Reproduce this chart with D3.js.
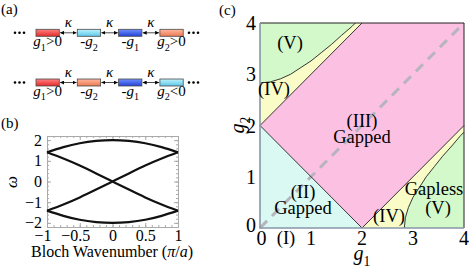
<!DOCTYPE html>
<html>
<head>
<meta charset="utf-8">
<script src="https://cdn.jsdelivr.net/npm/d3@7"></script>
<style>
body { margin: 0; background: #fff; }
svg { display: block; }
</style>
</head>
<body>
<svg id="fig" width="469" height="275"></svg>
<script>
// ---- data ----
// (a) chain of resonators
var chainTopColors = ["red", "cyan", "blue", "salmon"];
var chainTopLabels = ["g1>0", "-g2", "-g1", "g2>0"];
var chainBotColors = ["red", "salmon", "blue", "cyan"];
var chainBotLabels = ["g1>0", "-g2", "-g1", "g2<0"];

// (b) bands
var bandK = [-1, -0.75, -0.5, -0.25, 0, 0.25, 0.5, 0.75, 1];
var band1 = [1.41, 1.66, 1.85, 1.96, 2.0, 1.96, 1.85, 1.66, 1.41];
var band2 = [1.41, 1.11, 0.77, 0.39, 0, -0.39, -0.77, -1.11, -1.41];
var band3 = [-1.41, -1.11, -0.77, -0.39, 0, 0.39, 0.77, 1.11, 1.41];
var band4 = [-1.41, -1.66, -1.85, -1.96, -2.0, -1.96, -1.85, -1.66, -1.41];
var bTicksX = [-1, -0.5, 0, 0.5, 1];
var bTicksY = [-2, -1, 0, 1, 2];

// (c) phase diagram, boundaries in (g1, g2)
var cTicks = [0, 1, 2, 3, 4];
var upperCurve = [[0, 2.83], [0.2, 2.85], [0.4, 2.91], [0.6, 3.0], [0.8, 3.13], [1.0, 3.26],
                  [1.2, 3.42], [1.4, 3.58], [1.6, 3.76], [1.8, 3.93], [1.87, 4]];
var lowerCurve = [[2.83, 0], [2.85, 0.2], [2.91, 0.4], [3.0, 0.6], [3.13, 0.8], [3.26, 1.0],
                  [3.42, 1.2], [3.58, 1.4], [3.76, 1.6], [3.93, 1.8], [4, 1.87]];
var cyanRegion = [[0, 0], [0, 2], [2, 0]];
var pinkRegion = [[0, 2], [2, 4], [4, 4], [4, 2], [2, 0]];
var plotCorners = [[0, 0], [4, 0], [4, 4], [0, 4]];

// pick a Times-like font if there is one, else a sans and shrink a bit
var ctx = document.createElement("canvas").getContext("2d");
function hasFont(name) {
    ctx.font = "40px monospace";
    var w0 = ctx.measureText("Gapped WWmmil 0123").width;
    ctx.font = "40px '" + name + "', monospace";
    return ctx.measureText("Gapped WWmmil 0123").width != w0;
}
var fontChoices = [["Liberation Serif", 1], ["Tinos", 1], ["Times New Roman", 1], ["DejaVu Serif", 0.88],
                   ["Noto Serif", 0.9], ["Liberation Sans", 0.9], ["Arimo", 0.9], ["DejaVu Sans", 0.82]];
var FONT = "serif", SC = 1;
for (var i = 0; i < fontChoices.length; i++) {
    if (hasFont(fontChoices[i][0])) { FONT = "'" + fontChoices[i][0] + "'"; SC = fontChoices[i][1]; break; }
}
function fs(n) { return n * SC; }

var svg = d3.select("#fig").attr("font-family", FONT);
var defs = svg.append("defs");

// gradients for the boxes
var boxFill = {
    red: ["#ff8282", "#e52a2a"],
    cyan: ["#bff2fd", "#5cc8ea"],
    blue: ["#7090ff", "#2342d6"],
    salmon: ["#ffbaa0", "#ec7852"]
};
Object.keys(boxFill).forEach(function (k) {
    var g = defs.append("linearGradient").attr("id", "grad-" + k)
        .attr("x1", 0).attr("y1", 0).attr("x2", 0).attr("y2", 1);
    g.append("stop").attr("offset", "0%").attr("stop-color", boxFill[k][0]);
    g.append("stop").attr("offset", "100%").attr("stop-color", boxFill[k][1]);
});

defs.append("marker").attr("id", "arr")
    .attr("viewBox", "0 0 6 6").attr("refX", 6).attr("refY", 3)
    .attr("markerWidth", 4).attr("markerHeight", 4)
    .attr("markerUnits", "userSpaceOnUse")
    .attr("orient", "auto-start-reverse")
    .append("path").attr("d", "M0,0 L6,3 L0,6 z").attr("fill", "#000");

// text with g_n subscripts
function rich(t, str, size) {
    var shift = size * 0.28, pend = 0;
    str.match(/g\d|[^g]+/g).forEach(function (p) {
        if (p.length == 2 && p[0] == "g") {
            t.append("tspan").attr("font-style", "italic").attr("dy", pend).text("g");
            t.append("tspan").attr("font-size", size * 0.68).attr("dy", shift).text(p[1]);
            pend = -shift;
        } else {
            t.append("tspan").attr("dy", pend).text(p);
            pend = 0;
        }
    });
}

// panel letters
svg.append("text").attr("x", 1).attr("y", 14).attr("font-size", fs(15)).text("(a)");
svg.append("text").attr("x", 1).attr("y", 128).attr("font-size", fs(15)).text("(b)");
svg.append("text").attr("x", 219).attr("y", 15).attr("font-size", fs(15)).text("(c)");

// ---- (a) ----
var boxX0 = 36, boxStep = 41.3, boxW = 23.3, boxH = 7;
function drawChain(colors, labels, y) {
    var g = svg.append("g");
    [15, 19.5, 24].forEach(function (x) {
        g.append("circle").attr("cx", x).attr("cy", y + boxH / 2).attr("r", 1.3);
    });
    [189, 193.5, 198].forEach(function (x) {
        g.append("circle").attr("cx", x).attr("cy", y + boxH / 2).attr("r", 1.3);
    });
    colors.forEach(function (c, i) {
        var x = boxX0 + i * boxStep;
        g.append("rect").attr("x", x).attr("y", y).attr("width", boxW).attr("height", boxH)
            .attr("fill", "url(#grad-" + c + ")").attr("stroke", "#4a4a4a").attr("stroke-width", 0.8);
        var t = g.append("text").attr("x", x + boxW / 2).attr("y", y + 17)
            .attr("text-anchor", "middle").attr("font-size", fs(15));
        rich(t, labels[i], fs(15));
        if (i < colors.length - 1) {
            g.append("line").attr("x1", x + boxW + 0.8).attr("x2", x + boxStep - 0.8)
                .attr("y1", y + boxH / 2).attr("y2", y + boxH / 2)
                .attr("stroke", "#000").attr("stroke-width", 0.7)
                .attr("marker-start", "url(#arr)").attr("marker-end", "url(#arr)");
            g.append("text").attr("x", x + boxW + (boxStep - boxW) / 2).attr("y", y - 2)
                .attr("text-anchor", "middle").attr("font-size", fs(15)).attr("font-style", "italic").text("κ");
        }
    });
}
drawChain(chainTopColors, chainTopLabels, 29.3);
drawChain(chainBotColors, chainBotLabels, 79);

// ---- (b) ----
var xb = d3.scaleLinear().domain([-1, 1]).range([47, 178]);
var yb = d3.scaleLinear().domain([-2.2, 2.2]).range([227, 136]);
var gb = svg.append("g");
var frameCol = "#aaa";

function styleAxis(sel) {
    sel.attr("font-family", FONT).attr("font-size", fs(16));
    sel.select(".domain").attr("stroke", frameCol);
    sel.selectAll(".tick line").attr("stroke", frameCol);
    sel.selectAll("text").attr("fill", "#000");
}
var minorX = d3.range(-1, 1.001, 0.1), minorY = d3.range(-2.2, 2.201, 0.2);
gb.append("g").attr("transform", "translate(0," + yb(-2.2) + ")")
    .call(d3.axisBottom(xb).tickValues(minorX).tickSizeInner(-2).tickSizeOuter(0).tickFormat("")).call(styleAxis);
gb.append("g").attr("transform", "translate(0," + yb(2.2) + ")")
    .call(d3.axisTop(xb).tickValues(minorX).tickSizeInner(-2).tickSizeOuter(0).tickFormat("")).call(styleAxis);
gb.append("g").attr("transform", "translate(" + xb(-1) + ",0)")
    .call(d3.axisLeft(yb).tickValues(minorY).tickSizeInner(-2).tickSizeOuter(0).tickFormat("")).call(styleAxis);
gb.append("g").attr("transform", "translate(" + xb(1) + ",0)")
    .call(d3.axisRight(yb).tickValues(minorY).tickSizeInner(-2).tickSizeOuter(0).tickFormat("")).call(styleAxis);

var xAxisB = gb.append("g").attr("transform", "translate(0," + yb(-2.2) + ")")
    .call(d3.axisBottom(xb).tickValues(bTicksX).tickSizeInner(-4).tickSizeOuter(0).tickPadding(3)
        .tickFormat(d3.format("")))
    .call(styleAxis);
xAxisB.selectAll("text").attr("dx", function (d) { return d < 0 ? "-0.28em" : 0; });
gb.append("g").attr("transform", "translate(" + xb(-1) + ",0)")
    .call(d3.axisLeft(yb).tickValues(bTicksY).tickSizeInner(-4).tickSizeOuter(0).tickPadding(5)
        .tickFormat(d3.format("")))
    .call(styleAxis);
gb.append("g").attr("transform", "translate(0," + yb(2.2) + ")")
    .call(d3.axisTop(xb).tickValues(bTicksX).tickSizeInner(-4).tickSizeOuter(0).tickFormat("")).call(styleAxis);
gb.append("g").attr("transform", "translate(" + xb(1) + ",0)")
    .call(d3.axisRight(yb).tickValues(bTicksY).tickSizeInner(-4).tickSizeOuter(0).tickFormat("")).call(styleAxis);

var bandLine = d3.line()
    .x(function (d, i) { return xb(bandK[i]); })
    .y(function (d) { return yb(d); })
    .curve(d3.curveNatural);
[band1, band2, band3, band4].forEach(function (b) {
    gb.append("path").datum(b).attr("d", bandLine)
        .attr("fill", "none").attr("stroke", "#111").attr("stroke-width", 2.2);
});

var xl = gb.append("text").attr("x", 112).attr("y", 257).attr("text-anchor", "middle").attr("font-size", fs(16));
xl.append("tspan").text("Bloch Wavenumber (");
xl.append("tspan").attr("font-style", "italic").text("π");
xl.append("tspan").text("/");
xl.append("tspan").attr("font-style", "italic").text("a");
xl.append("tspan").text(")");
gb.append("text").attr("transform", "translate(17,182) rotate(-90)")
    .attr("text-anchor", "middle").attr("font-size", fs(17)).attr("font-style", "italic").text("ω");

// ---- (c) ----
var xc = d3.scaleLinear().domain([0, 4]).range([260, 464]);
var yc = d3.scaleLinear().domain([0, 4]).range([228, 23]);
var gc = svg.append("g");
var poly = d3.line().x(function (d) { return xc(d[0]); }).y(function (d) { return yc(d[1]); });

function region(pts, fill) {
    gc.append("path").attr("d", poly(pts) + "Z").attr("fill", fill).attr("stroke", "none");
}
region(plotCorners, "#d3f8c9");
region([[0, 2]].concat(upperCurve).concat([[2, 4]]), "#f9fcc6");
region([[2, 0]].concat(lowerCurve).concat([[4, 2]]), "#f9fcc6");
region(pinkRegion, "#fcc1e2");
region(cyanRegion, "#d9f9f2");

// dashed diagonal
gc.append("path").attr("d", poly([[0, 0], [4, 4]]))
    .attr("stroke", "#b6b4be").attr("stroke-width", 3).attr("stroke-dasharray", "10,7").attr("fill", "none");

// boundaries
[[[0, 2], [2, 4]], [[0, 2], [2, 0], [4, 2]], upperCurve, lowerCurve].forEach(function (pts) {
    gc.append("path").attr("d", poly(pts)).attr("fill", "none").attr("stroke", "#222").attr("stroke-width", 0.9);
});

// frame
gc.append("path").attr("d", poly([[0, 4], [4, 4], [4, 0]])).attr("fill", "none")
    .attr("stroke", "#222").attr("stroke-width", 1);
gc.append("path").attr("d", poly([[0, 4], [0, 0], [4, 0]])).attr("fill", "none")
    .attr("stroke", "#8697a8").attr("stroke-width", 1.6);

// ticks
gc.selectAll(".xt").data(cTicks).enter().append("text")
    .attr("x", function (d) { return xc(d) + (d == 0 ? 1.5 : 0); }).attr("y", 245)
    .attr("text-anchor", "middle").attr("font-size", fs(20)).text(function (d) { return d; });
gc.selectAll(".yt").data(cTicks).enter().append("text")
    .attr("x", 256).attr("y", function (d) { return yc(d) + (d == 0 ? -3 : 0); })
    .attr("dy", "0.35em").attr("text-anchor", "end").attr("font-size", fs(20)).text(function (d) { return d; });

var g1l = gc.append("text").attr("x", 362).attr("y", 260).attr("text-anchor", "middle").attr("font-size", fs(20));
rich(g1l, "g1", fs(20));
var g2l = gc.append("text").attr("transform", "translate(244,125) rotate(-90)").attr("text-anchor", "middle").attr("font-size", fs(20));
rich(g2l, "g2", fs(20));

// region labels
function lab(x, y, s) {
    gc.append("text").attr("x", x).attr("y", y).attr("text-anchor", "middle").attr("font-size", fs(18.5)).text(s);
}
lab(290, 49, "(V)");
lab(274, 95, "(IV)");
lab(362, 127, "(III)");
lab(362, 143, "Gapped");
lab(303, 198, "(II)");
lab(303, 214, "Gapped");
lab(389, 222, "(IV)");
lab(434, 195, "Gapless");
lab(438, 214, "(V)");
lab(286, 244, "(I)");
</script>
</body>
</html>
